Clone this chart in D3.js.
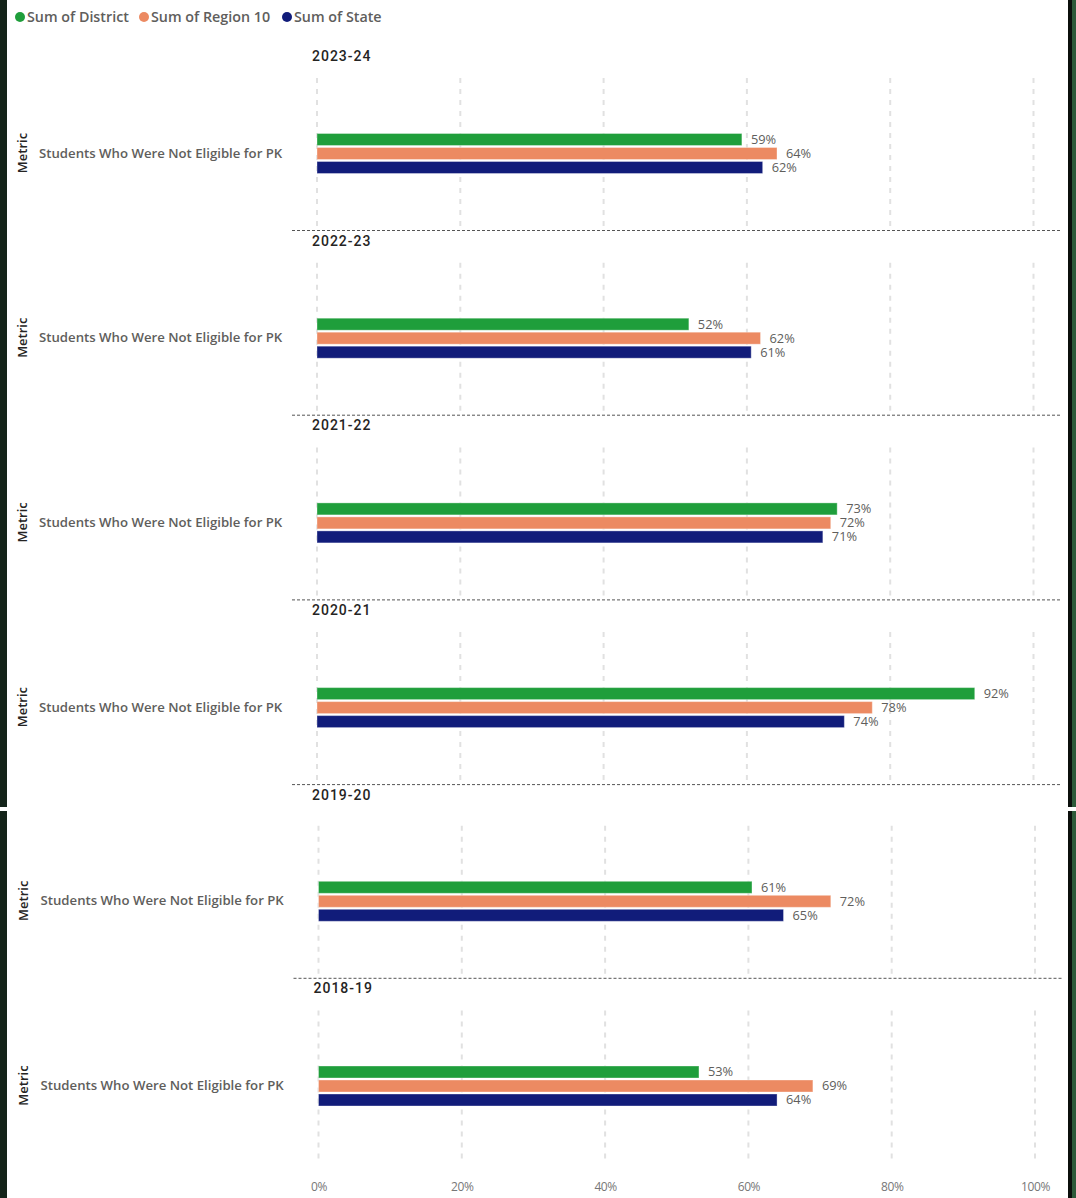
<!DOCTYPE html>
<html>
<head>
<meta charset="utf-8">
<script src="https://cdn.jsdelivr.net/npm/d3@7"></script>
<style>
  body { margin: 0; background: #fff; }
  svg { display: block; font-family: "Segoe UI", "Open Sans", sans-serif; }
</style>
</head>
<body>
<div id="container"></div>
<script>
var width = 1076, height = 1198;

// data
var years = ['2023-24', '2022-23', '2021-22', '2020-21', '2019-20', '2018-19'];
var series = ['Sum of District', 'Sum of Region 10', 'Sum of State'];
var colors = ['#1f9e3b', '#ec8a62', '#111c7a'];
var metric = 'Students Who Were Not Eligible for PK';
var district = [59.3, 51.9, 72.6, 91.8, 60.5, 53.1];
var region10 = [64.2, 61.9, 71.7, 77.5, 71.5, 69.0];
var state = [62.2, 60.6, 70.6, 73.6, 64.9, 64.0];
var xTicks = [0, 20, 40, 60, 80, 100];

var values = [district, region10, state];

var svg = d3.select('#container').append('svg')
  .attr('width', width).attr('height', height);

var x = d3.scaleLinear().domain([0, 100]).range([317, 1033.5]);
var panelY = d3.scaleBand().domain(years).range([45, 45 + 6 * 184.7]);
var barY = d3.scaleBand().domain(series).range([87.5, 129.5])
  .paddingInner(2 / 14).paddingOuter(1 / 14);
var color = d3.scaleOrdinal().domain(series).range(colors);

// the reference is two screenshots stacked, so the chart is split in two clipped parts
var defs = svg.append('defs');
defs.append('clipPath').attr('id', 'clipTop')
  .append('rect').attr('x', 0).attr('y', 0).attr('width', width).attr('height', 807);
defs.append('clipPath').attr('id', 'clipBottom')
  .append('rect').attr('x', -2).attr('y', 802).attr('width', width).attr('height', 400);

function drawChart(g, opts) {
  if (opts.legend) {
    var lx = [20, 144, 287];
    var legend = g.selectAll('g.legend').data(series).enter().append('g')
      .attr('class', 'legend')
      .attr('transform', function(d, i) { return 'translate(' + lx[i] + ',17)'; });
    legend.append('circle').attr('r', 5).attr('fill', function(d) { return color(d); });
    legend.append('text').attr('x', 7).attr('dy', '0.35em')
      .style('font-size', '14.3px').style('font-weight', 600).attr('fill', '#605e5c')
      .text(function(d) { return d; });
  }

  var panels = g.selectAll('g.panel').data(opts.full).enter().append('g')
    .attr('class', 'panel')
    .attr('transform', function(i) { return 'translate(0,' + panelY(years[i]) + ')'; });

  // year titles
  g.selectAll('text.year').data(opts.titles).enter().append('text')
    .attr('class', 'year')
    .attr('x', 312).attr('y', function(i) { return panelY(years[i]) + 11; }).attr('dy', '0.35em')
    .style('font-family', 'Roboto, sans-serif').style('font-size', '14px').style('font-weight', 500)
    .style('letter-spacing', '1px').attr('fill', '#252423')
    .text(function(i) { return years[i]; });

  // gridlines
  panels.selectAll('line.grid').data(xTicks).enter().append('line')
    .attr('class', 'grid')
    .attr('x1', function(d) { return x(d); }).attr('x2', function(d) { return x(d); })
    .attr('y1', 33).attr('y2', 184)
    .attr('stroke', '#e1e1e1').attr('stroke-width', 2).attr('stroke-dasharray', '5,6');

  // separators
  panels.filter(function(i) { return i < years.length - 1; })
    .append('line')
    .attr('x1', 292).attr('x2', 1061).attr('y1', 185.5).attr('y2', 185.5)
    .attr('stroke', '#555').attr('stroke-width', 1).attr('stroke-dasharray', '3,2');

  panels.append('text')
    .attr('transform', 'translate(22,108) rotate(-90)')
    .attr('text-anchor', 'middle').attr('dy', '0.35em')
    .style('font-size', '13px').style('font-weight', 600).attr('fill', '#252423')
    .text('Metric');

  panels.append('text').attr('x', 39).attr('y', 108).attr('dy', '0.35em')
    .style('font-size', '13.2px').style('font-weight', 600)
    .attr('fill', '#605e5c')
    .text(metric);

  panels.each(function(pi) {
    var p = d3.select(this);
    var rows = series.map(function(s, si) { return { s: s, v: values[si][pi] }; });
    p.selectAll('rect.bar').data(rows).enter().append('rect')
      .attr('class', 'bar')
      .attr('x', x(0))
      .attr('y', function(d) { return barY(d.s); })
      .attr('width', function(d) { return x(d.v) - x(0); })
      .attr('height', barY.bandwidth())
      .attr('fill', function(d) { return color(d.s); })
      .attr('stroke', 'rgba(255,255,255,0.35)').attr('stroke-width', 1);
    p.selectAll('text.val').data(rows).enter().append('text')
      .attr('class', 'val')
      .attr('x', function(d) { return x(d.v) + 9; })
      .attr('y', function(d) { return barY(d.s) + barY.bandwidth() / 2; })
      .attr('dy', '0.35em')
      .style('font-size', '12.8px').attr('fill', '#605e5c')
      .text(function(d) { return Math.round(d.v) + '%'; });
  });

  if (opts.axis) {
    var axis = g.append('g')
      .attr('transform', 'translate(0,' + (panelY(years[years.length - 1]) + 202) + ')')
      .call(d3.axisBottom(x).tickValues(xTicks).tickSize(0).tickFormat(function(d) { return d + '%'; }));
    axis.select('.domain').remove();
    axis.selectAll('text')
      .style('font-family', '"Segoe UI", "Open Sans", sans-serif')
      .style('font-size', '12px').attr('fill', '#777').style('letter-spacing', '-0.4px');
  }
}

var topPart = svg.append('g').attr('clip-path', 'url(#clipTop)');
drawChart(topPart, { legend: true, full: [0, 1, 2, 3], titles: [0, 1, 2, 3, 4], axis: false });

var bottomPart = svg.append('g').attr('transform', 'translate(1.5,9)')
  .append('g').attr('clip-path', 'url(#clipBottom)');
drawChart(bottomPart, { legend: false, full: [4, 5], titles: [5], axis: true });

// window borders of the two screenshots
[[0, 807], [811, height]].forEach(function(r) {
  svg.append('rect').attr('x', 0).attr('y', r[0]).attr('width', 7).attr('height', r[1] - r[0])
    .attr('fill', '#14241a');
  svg.append('rect').attr('x', 1068).attr('y', r[0]).attr('width', 4).attr('height', r[1] - r[0])
    .attr('fill', '#0b0f0c');
  svg.append('rect').attr('x', 1072).attr('y', r[0]).attr('width', 4).attr('height', r[1] - r[0])
    .attr('fill', '#2e5a3a');
});
</script>
</body>
</html>
